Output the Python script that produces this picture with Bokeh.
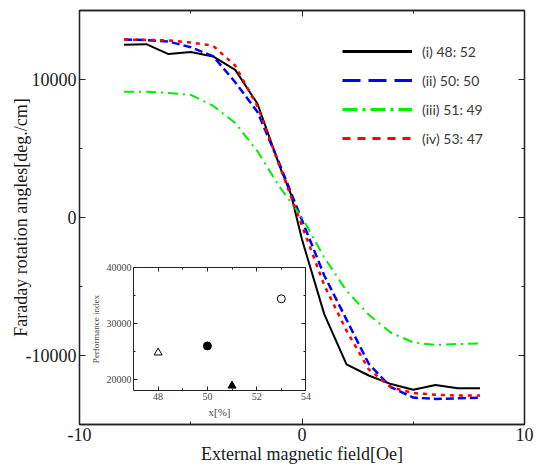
from bokeh.plotting import figure
from bokeh.models import Range1d, LinearAxis, FixedTicker, Legend, LegendItem, ColumnDataSource
from bokeh.embed import file_html
from bokeh.resources import INLINE

# ---------------- data ----------------
field_i = [-8, -7, -6, -5, -4, -3, -2, -1, -0.5, 0, 1, 2, 3, 4, 5, 6, 7, 8]
rot_i = [12520, 12560, 11840, 12000, 11670, 10700, 8240, 3700, 1700, -1600,
         -7000, -10650, -11450, -12070, -12480, -12140, -12380, -12380]
field = [-8, -7, -6, -5, -4, -3, -2, -1, 0, 1, 2, 3, 4, 5, 6, 7, 8]
rot_ii = [12900, 12850, 12750, 12340, 11700, 9800, 7650, 3850, -200,
          -4200, -7400, -10600, -12300, -13050, -13150, -13100, -13050]
rot_iii = [9120, 9120, 9030, 8890, 8100, 6850, 4800, 2200, 0,
           -2900, -5300, -7050, -8350, -9050, -9240, -9170, -9120]
rot_iv = [12900, 12870, 12830, 12680, 12450, 11000, 8050, 3700, -600,
          -4900, -8200, -11000, -12300, -12720, -12840, -12900, -12900]
labels = ["(i) 48: 52", "(ii) 50: 50", "(iii) 51: 49", "(iv) 53: 47"]

comp_x = [48, 50, 51, 53]
perf_index = [24800, 26000, 18900, 34400]

x_ticks = [-10, 0, 10]
x_minor = [-5, 5]
y_ticks = [-10000, 0, 10000]
y_minor = [-5000, 5000]
ix_ticks = [48, 50, 52, 54]
ix_minor = [49, 51, 53]
iy_ticks = [20000, 30000, 40000]
iy_minor = [25000, 35000]
inset_xlim = (47, 54)
inset_ylim = (18000, 40000)

# ---------------- styles ----------------
SERIF = "Liberation Serif"
colors = ["#000000", "#0000ff", "#00ee00", "#ff0000"]
dashes_plot = ["solid", "8 4", "10 5 2 5", "4 5"]
dashes_leg = ["solid", "18 8", "15 5 3 5", "8 7"]
widths = [2, 2.5, 2, 2.5]
inset_markers = ["triangle", "circle", "triangle", "circle"]
inset_fill = ["white", "black", "black", "white"]
NAN = float("nan")

# inset box as fractions of the main frame (left, right, bottom, top)
fl, fr, fb, ft = 0.1213, 0.5088, 0.0814, 0.3795

p = figure(width=537, height=467, x_range=Range1d(-10, 10), y_range=Range1d(-15000, 15000),
           output_backend="svg", toolbar_location=None,
           min_border_left=79, min_border_right=13, min_border_top=10, min_border_bottom=43)
p.grid.visible = False
p.outline_line_color = "#222222"
p.outline_line_width = 1.3
p.background_fill_color = "white"
p.border_fill_color = "white"

def style_axis(ax, major, minor, size, show_labels=True, tin=6, tmin=3):
    ax.ticker = FixedTicker(ticks=major, minor_ticks=minor)
    ax.major_tick_in = tin
    ax.major_tick_out = 0
    ax.minor_tick_in = tmin
    ax.minor_tick_out = 0
    ax.axis_line_color = "#222222"
    ax.axis_line_width = 1.3
    ax.major_tick_line_color = "#222222"
    ax.minor_tick_line_color = "#222222"
    ax.major_label_text_font = SERIF
    ax.major_label_text_color = "#1a1a1a"
    ax.axis_label_text_font = SERIF
    ax.axis_label_text_font_style = "normal"
    ax.axis_label_text_color = "#1a1a1a"
    ax.major_label_overrides = {t: str(t) for t in major}
    if show_labels:
        ax.major_label_text_font_size = size
    else:
        ax.major_label_text_font_size = "1px"
        ax.major_label_text_color = None
        ax.major_label_standoff = 0

style_axis(p.xaxis[0], x_ticks, x_minor, "18px")
style_axis(p.yaxis[0], y_ticks, y_minor, "18px")
p.xaxis[0].axis_label = "External magnetic field[Oe]"
p.yaxis[0].axis_label = "Faraday rotation angles[deg./cm]"
p.xaxis[0].axis_label_text_font_size = "18px"
p.yaxis[0].axis_label_text_font_size = "18px"
p.xaxis[0].major_label_standoff = 3
p.xaxis[0].axis_label_standoff = 0
p.yaxis[0].major_label_standoff = 3
p.yaxis[0].axis_label_standoff = -8

top = LinearAxis()
style_axis(top, x_ticks, x_minor, "1px", show_labels=False)
p.add_layout(top, "above")
right = LinearAxis()
style_axis(right, y_ticks, y_minor, "1px", show_labels=False)
p.add_layout(right, "right")

# main curves
series = [(field_i, rot_i), (field, rot_ii), (field, rot_iii), (field, rot_iv)]
for (xs, ys), c, d, w in zip(series, colors, dashes_plot, widths):
    p.line(xs, ys, line_color=c, line_dash=d, line_width=w)

# legend (invisible dummy renderers carry the legend styling)
items = []
for lab, c, d in zip(labels, colors, dashes_leg):
    r = p.line(x=[NAN], y=[NAN], line_color=c, line_dash=d, line_width=3)
    items.append(LegendItem(label=lab, renderers=[r]))
leg = Legend(items=items, location=(263, 276), glyph_width=70, glyph_height=20,
             label_height=20, spacing=9, padding=0, margin=0, label_standoff=10,
             label_text_font="Lato", label_text_font_size="14px", label_text_color="#3a3a3a",
             border_line_alpha=0, background_fill_alpha=0)
p.add_layout(leg)

# inset coordinate system
xspan = (inset_xlim[1] - inset_xlim[0]) / (fr - fl)
x0 = inset_xlim[0] - fl * xspan
yspan = (inset_ylim[1] - inset_ylim[0]) / (ft - fb)
y0 = inset_ylim[0] - fb * yspan
p.extra_x_ranges = {"ix": Range1d(x0, x0 + xspan)}
p.extra_y_ranges = {"iy": Range1d(y0, y0 + yspan)}

def inset_axis(loc, major, minor, fixed, bounds, labels_on, label=None, lsize="10px"):
    ax = LinearAxis(x_range_name="ix", y_range_name="iy", fixed_location=fixed, bounds=bounds)
    style_axis(ax, major, minor, "10px", show_labels=labels_on, tin=4, tmin=2)
    ax.axis_line_width = 1
    if labels_on:
        ax.major_label_text_color = "#444444"
        ax.major_label_standoff = 2
    if label:
        ax.axis_label = label
        ax.axis_label_text_font_size = lsize
        ax.axis_label_text_color = "#444444"
        ax.axis_label_standoff = 3
    p.add_layout(ax, loc)

inset_axis("left", iy_ticks, iy_minor, inset_xlim[0], inset_ylim, True, "Performance index", "9px")
inset_axis("below", ix_ticks, ix_minor, inset_ylim[0], inset_xlim, True, "x[%]", "11px")
inset_axis("right", iy_ticks, iy_minor, inset_xlim[1], inset_ylim, False)
inset_axis("above", ix_ticks, ix_minor, inset_ylim[1], inset_xlim, False)

src = ColumnDataSource(dict(x=comp_x, y=perf_index, m=inset_markers, f=inset_fill))
p.scatter(x="x", y="y", marker="m", fill_color="f", line_color="black", size=8,
          line_width=1, source=src, x_range_name="ix", y_range_name="iy")

open("out.html", "w").write(file_html(p, INLINE))
